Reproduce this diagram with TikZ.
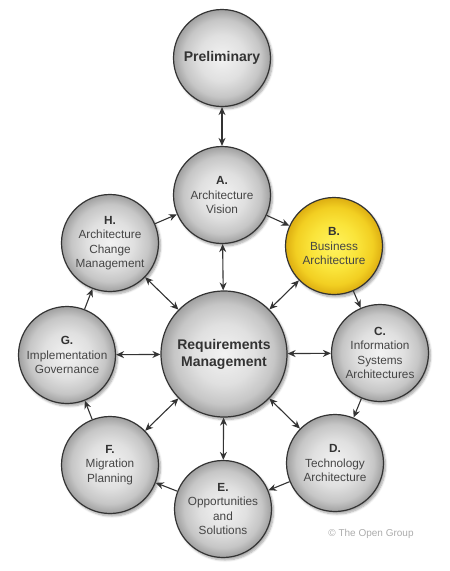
\documentclass[tikz,border=0pt]{standalone}
\usepackage{fontspec}
\setmainfont{Liberation Sans}
\usetikzlibrary{arrows.meta,shadows.blur}
\definecolor{ringline}{HTML}{333333}
\definecolor{phasetext}{HTML}{454545}
\definecolor{phasein}{HTML}{F2F2F2}
\definecolor{phasemid}{HTML}{E0E0E0}
\definecolor{phaseedge}{HTML}{C6C6C6}
\definecolor{phaseout}{HTML}{A0A0A0}
\definecolor{busin}{HTML}{FFF35E}
\definecolor{busmid}{HTML}{FAE43A}
\definecolor{busedge}{HTML}{F2CF22}
\definecolor{busout}{HTML}{DDAE12}
\pgfdeclareradialshading{phaseshade}{\pgfpoint{0bp}{0bp}}{color(0bp)=(phasein); color(12bp)=(phasemid); color(20bp)=(phaseedge); color(25bp)=(phaseout); color(50bp)=(phaseout)}
\pgfdeclareradialshading{busshade}{\pgfpoint{0bp}{0bp}}{color(0bp)=(busin); color(12bp)=(busmid); color(20bp)=(busedge); color(25bp)=(busout); color(50bp)=(busout)}
\tikzset{
    phase/.style={circle, draw=ringline, line width=1.2pt, inner sep=0pt, minimum size=97pt,
        shading=phaseshade, text=phasetext, align=center,
        font=\fontsize{11.8}{14.5}\selectfont,
        blur shadow={shadow xshift=2pt, shadow yshift=-2.5pt, shadow blur steps=6, shadow opacity=35}},
    hub/.style={phase, minimum size=126pt, text=ringline, font=\fontsize{14}{17}\selectfont\bfseries},
}
\newcommand{\phaseid}[1]{\textbf{\color{ringline}#1}}
\begin{document}
\begin{tikzpicture}[x=1pt,y=-1pt,>={Stealth[length=8pt,width=7pt]},line width=1.1pt,draw=ringline]
        \useasboundingbox (0,0) rectangle (450,571);
        % phases round the hub
        \node[phase, text=ringline, font=\fontsize{14}{17}\selectfont\bfseries] (P) at (222,58) {Preliminary};
        \node[phase] (A) at (222,195) {\phaseid{A.}\\Architecture\\Vision};
        \node[phase, shading=busshade] (B) at (334,246) {\phaseid{B.}\\Business\\Architecture};
        \node[phase] (C) at (380,353) {\phaseid{C.}\\Information\\Systems\\Architectures};
        \node[phase] (D) at (335,463) {\phaseid{D.}\\Technology\\Architecture};
        \node[phase] (E) at (223,509) {\phaseid{E.}\\Opportunities\\and\\Solutions};
        \node[phase] (F) at (110,465) {\phaseid{F.}\\Migration\\Planning};
        \node[phase] (G) at (67,355) {\phaseid{G.}\\Implementation\\Governance};
        \node[phase] (H) at (110,243) {\phaseid{H.}\\Architecture\\Change\\Management};
        \node[hub] (R) at (224,354) {Requirements\\Management};
        \node[text=gray!65, font=\fontsize{10}{12}\selectfont] (copy) at (371,534) {\textcopyright{} The Open Group};
        % cycle
        \draw[<->] (P) --(A);
        \draw[->] (A) --(B); \draw[->] (B) --(C); \draw[->] (C) --(D); \draw[->] (D) --(E);
        \draw[->] (E) --(F); \draw[->] (F) --(G); \draw[->] (G) --(H); \draw[->] (H) --(A);
        % spokes
        \draw[<->] (R) --(A); \draw[<->] (R) --(B); \draw[<->] (R) --(C); \draw[<->] (R) --(D);
        \draw[<->] (R) --(E); \draw[<->] (R) --(F); \draw[<->] (R) --(G); \draw[<->] (R) --(H);
\end{tikzpicture}
\end{document}
